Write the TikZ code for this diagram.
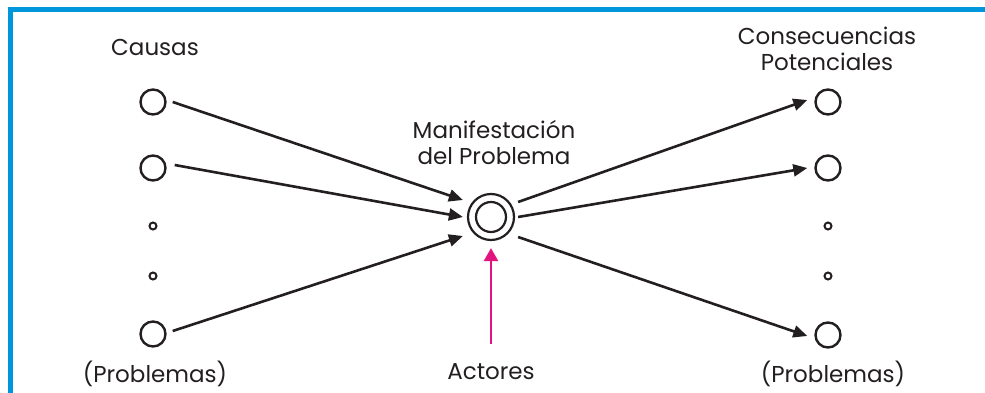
\documentclass[tikz,border=0pt]{standalone}
\usepackage{fontspec}
\setmainfont{Poppins}
\usetikzlibrary{arrows.meta}
\definecolor{ink}{HTML}{231F20}
\definecolor{frameblue}{HTML}{0096DB}
\definecolor{actmag}{HTML}{E2147F}
\tikzset{
  bigc/.style={circle,draw=ink,line width=2.4pt,minimum size=25pt,inner sep=0pt},
  smallc/.style={circle,draw=ink,line width=2pt,minimum size=7pt,inner sep=0pt},
  lbl/.style={text=ink,inner sep=0pt,font=\fontsize{23}{26}\selectfont,align=center},
  conn/.style={draw=ink,line width=2.6pt,-{Triangle[length=14pt,width=12pt]}},
  plainconn/.style={draw=ink,line width=2.6pt},
  magconn/.style={draw=actmag,line width=2.6pt,-{Triangle[length=13pt,width=14pt]}},
}
\begin{document}
\begin{tikzpicture}[x=1pt,y=-1pt]
\useasboundingbox (0,0) rectangle (985,393);
% frame
\draw[frameblue,line width=5pt] (8,9.5) -- (985,9.5);
\draw[frameblue,line width=4.5pt] (10.5,7) -- (10.5,393);
% left column
\node[bigc] (c1) at (153,102) {};
\node[bigc] (c2) at (153,168) {};
\node[smallc] (c3) at (153,226) {};
\node[smallc] (c4) at (153,276) {};
\node[bigc] (c5) at (153,334) {};
% right column
\node[bigc] (r1) at (828,102) {};
\node[bigc] (r2) at (828,168) {};
\node[smallc] (r3) at (828,226) {};
\node[smallc] (r4) at (828,276) {};
\node[bigc] (r5) at (828,335) {};
% centre
\node[circle,draw=ink,line width=2.2pt,minimum size=46pt,inner sep=0pt] (ctr) at (491,217) {};
\node[circle,draw=ink,line width=2.2pt,minimum size=30pt,inner sep=0pt] (ctrin) at (ctr) {};
% labels
\node[lbl,anchor=base] (causas) at (155,56) {Causas};
\node[lbl] (conse) at (827,49) {Consecuencias\\Potenciales};
\node[lbl] (manif) at (494,142.5) {Manifestación\\del Problema};
\node[lbl,anchor=base] (probL) at (155,382) {(Problemas)};
\node[lbl,anchor=base] (probR) at (833,382) {(Problemas)};
\node[lbl,anchor=base] (actores) at (491,379) {Actores};
% connectors: causes -> manifestation
\draw[conn] ([xshift=6pt]c1.east) -- ([shift={(-4,-17)}]ctr.west);
\draw[conn] ([shift={(8,-3)}]c2.east) -- ([xshift=-4pt]ctr.west);
\draw[conn] ([shift={(6,-3)}]c5.east) -- ([shift={(-4,19)}]ctr.west);
% manifestation -> consequences
\draw[conn] ([shift={(3,-15)}]ctr.east) -- ([shift={(-7,-2)}]r1.west);
\draw[conn] ([xshift=3pt]ctr.east) -- ([xshift=-7pt]r2.west);
\draw[conn] ([shift={(3,20)}]ctr.east) -- ([shift={(-7,1)}]r5.west);
% actors
\draw[magconn] ([yshift=19pt]actores.north) -- ([yshift=-7pt]ctr.south);
\end{tikzpicture}
\end{document}
